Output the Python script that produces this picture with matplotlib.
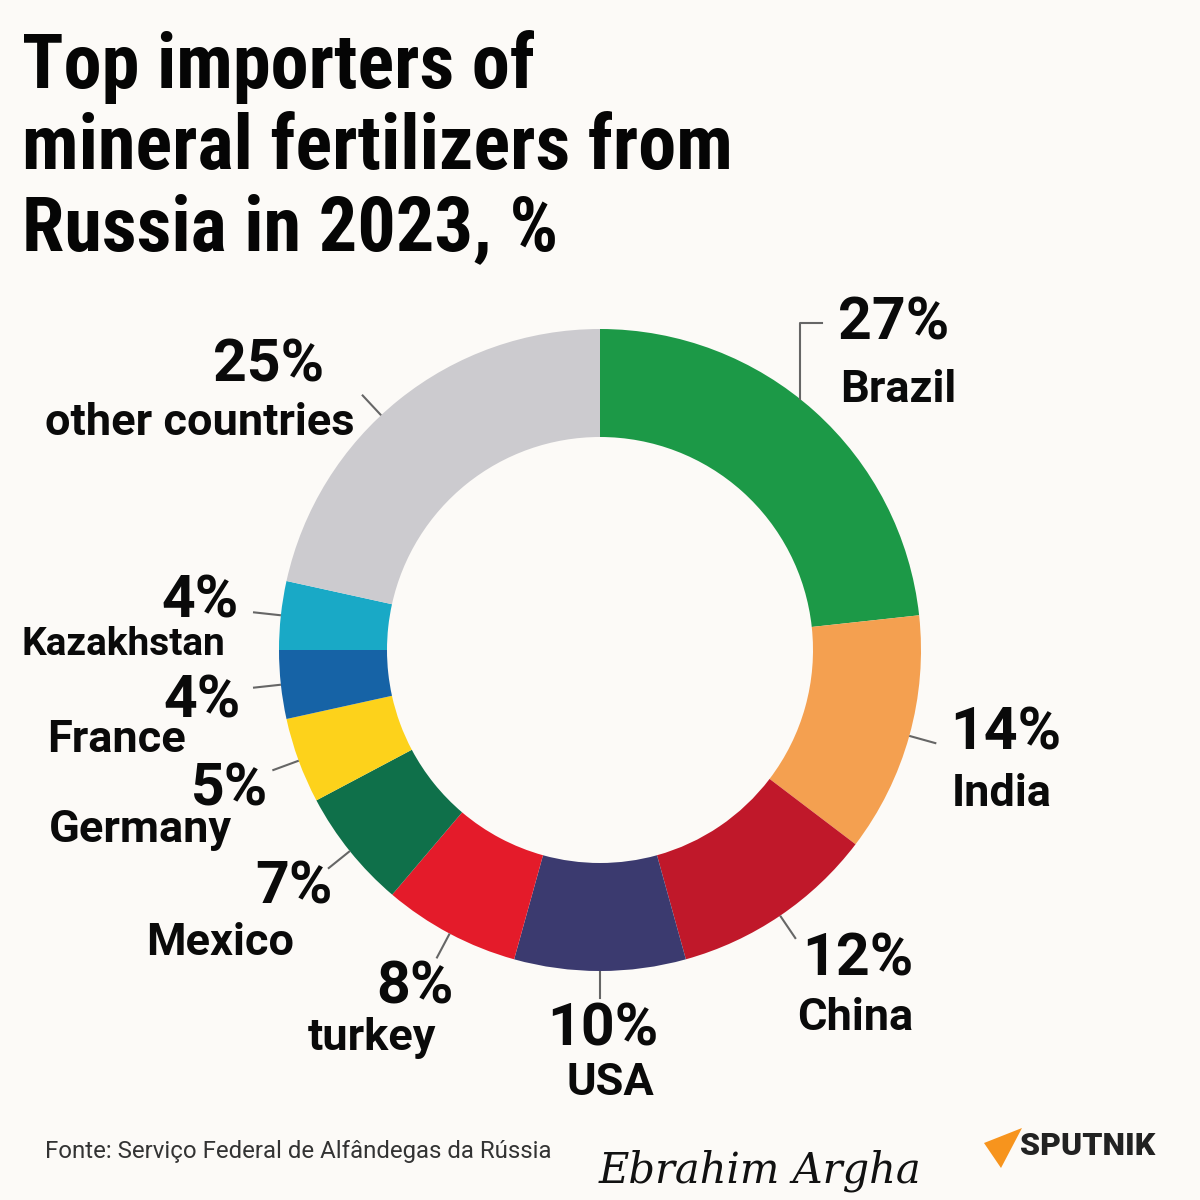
import matplotlib
matplotlib.use('Agg')
import matplotlib.pyplot as plt
import matplotlib.font_manager as fm
import numpy as np

# data
countries = ['Brazil', 'India', 'China', 'USA', 'turkey', 'Mexico',
             'Germany', 'France', 'Kazakhstan', 'other countries']
shares = [27, 14, 12, 10, 8, 7, 5, 4, 4, 25]
colors = ['#1c9947', '#f4a050', '#c0182a', '#3b3a6f', '#e41b2a', '#0f704a',
          '#fdd21b', '#1663a6', '#19a9c6', '#cccbcf']

# label layout (image pixel coords, y from top):
# pct x, pct baseline, name x, name baseline, align, name size
label_pos = {
    'Brazil': (838, 340, 840, 402, 'left', 32.5),
    'India': (950, 750, 952, 806, 'left', 32.5),
    'China': (858, 975, 855, 1030, 'center', 32.5),
    'USA': (603, 1045, 610, 1095, 'center', 32.5),
    'turkey': (415, 1003, 372, 1050, 'center', 32.5),
    'Mexico': (294, 903, 220, 955, 'center', 32.5),
    'Germany': (230, 805, 140, 842, 'center', 32.5),
    'France': (202, 718, 117, 752, 'center', 32.5),
    'Kazakhstan': (200, 618, 123, 655, 'center', 28),
    'other countries': (269, 382, 200, 435, 'center', 32.5),
}

bg = '#fcfaf7'
names = {f.name for f in fm.fontManager.ttflist}
title_font = 'Roboto'
for cand in ['Roboto Condensed', 'Liberation Sans Narrow', 'Open Sans Condensed',
             'Noto Sans Condensed', 'DejaVu Sans Condensed']:
    if cand in names:
        title_font = cand
        break
title_size = 49 if title_font == 'Roboto' else 55
lab_font = 'Roboto'

H = 1200
def Y(y):
    return H - y

fig = plt.figure(figsize=(12, 12), dpi=100, facecolor=bg)
ax = fig.add_axes([0, 0, 1, 1])

cx, cy, R, W = 600, Y(650), 321, 108
wedges, _ = ax.pie(shares, colors=colors, startangle=90, counterclock=False,
                   radius=R, center=(cx, cy), frame=True,
                   wedgeprops=dict(width=W, linewidth=0))
ax.set_xlim(0, 1200)
ax.set_ylim(0, 1200)
ax.set_aspect('equal')
ax.axis('off')

# leader lines
for name, w in zip(countries, wedges):
    mid = np.deg2rad((w.theta1 + w.theta2) / 2)
    if name == 'Brazil':
        x0 = 800
        y0 = cy + np.sqrt(R**2 - (x0 - cx)**2)
        ax.plot([x0, x0, 822], [y0, Y(323), Y(323)], color='#666666', lw=1.5)
        continue
    if name == 'other countries':
        mid = np.deg2rad(133)
    r0, r1 = R + 1, R + 27
    ax.plot([cx + r0*np.cos(mid), cx + r1*np.cos(mid)],
            [cy + r0*np.sin(mid), cy + r1*np.sin(mid)], color='#666666', lw=1.5)

for name, val in zip(countries, shares):
    px, py, nx, ny, ha, ns = label_pos[name]
    ax.text(px, Y(py), str(val) + '%', fontsize=42.5, fontweight='bold',
            family=lab_font, ha=ha, va='baseline', color='#0a0a0a')
    ax.text(nx, Y(ny), name, fontsize=ns, fontweight='bold',
            family=lab_font, ha=ha, va='baseline', color='#0a0a0a')

# title
title_lines = ['Top importers of', 'mineral fertilizers from', 'Russia in 2023, %']
for i, line in enumerate(title_lines):
    ax.text(22, Y(88 + i*81), line, fontsize=title_size, fontweight='bold',
            family=title_font, ha='left', va='baseline', color='#050505')

# footer
ax.text(45, Y(1158), 'Fonte: Serviço Federal de Alfândegas da Rússia', fontsize=17.3,
        family=lab_font, ha='left', va='baseline', color='#333333')
ax.text(760, Y(1183), 'Ebrahim Argha', fontsize=30, family='DejaVu Serif',
        style='italic', ha='center', va='baseline', color='#111111')
ax.add_patch(plt.Polygon([(1022, Y(1128)), (984, Y(1143)), (1001, Y(1168))],
                         closed=True, color='#f7941d', lw=0))
ax.text(1020, Y(1155), 'SPUTNIK', fontsize=23, fontweight='heavy',
        family=lab_font, ha='left', va='baseline', color='#222222')

fig.savefig('out.png', dpi=100, facecolor=bg)
